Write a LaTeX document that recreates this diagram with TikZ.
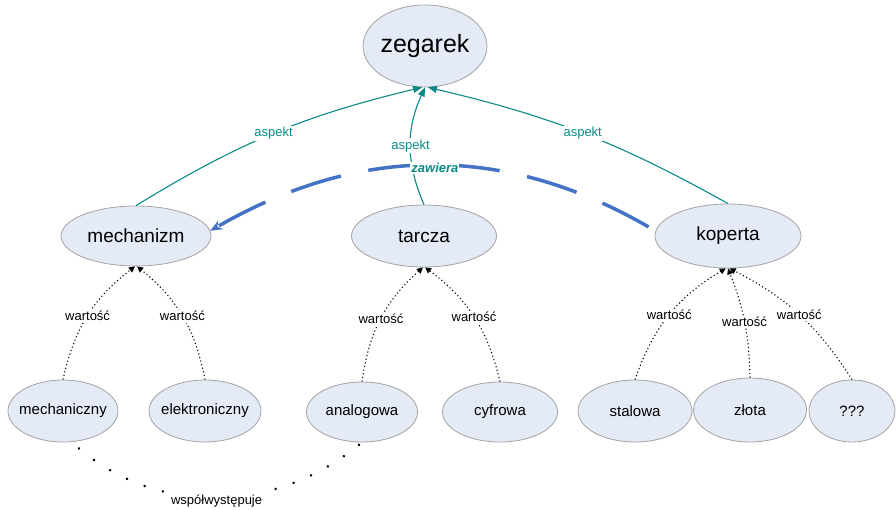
\documentclass[tikz,border=0pt]{standalone}
\usepackage{fontspec}
\setmainfont{Liberation Sans}
\usetikzlibrary{shapes.geometric,arrows.meta}
\definecolor{nodefill}{HTML}{E4EAF6}
\definecolor{nodeline}{HTML}{A3A3A3}
\definecolor{aspectcol}{HTML}{0A8A86}
\definecolor{containcol}{HTML}{4472C4}

\begin{document}
\begin{tikzpicture}[x=1pt,y=-1pt,
  concept/.style={ellipse, draw=nodeline, fill=nodefill, line width=0.8pt, inner xsep=-8pt, inner ysep=0pt},
  bigc/.style={concept, font=\fontsize{25}{28}\selectfont},
  midc/.style={concept, font=\fontsize{19}{22}\selectfont},
  smallc/.style={concept, font=\fontsize{15}{18}\selectfont},
  aspectedge/.style={draw=aspectcol, line width=1.1pt, -{Triangle[length=9pt,width=7pt]}},
  aspectlabel/.style={fill=white, inner sep=1.5pt, text=aspectcol, font=\fontsize{13}{15}\selectfont},
  valueedge/.style={line width=1.1pt, dash pattern=on 1.1pt off 2.6pt, -{Triangle[length=6pt,width=6pt]}},
  valuelabel/.style={fill=white, inner sep=1.5pt, font=\fontsize{13}{15}\selectfont},
  containedge/.style={draw=containcol, line width=3.5pt, dash pattern=on 52pt off 28pt,
    -{Stealth[length=12pt,width=10pt]}},
  containlabel/.style={fill=white, inner sep=1pt, text=aspectcol, font=\fontsize{13}{15}\selectfont\bfseries\itshape},
  coocedge/.style={line width=2.8pt, line cap=round, dash pattern=on 0.01pt off 19pt},
  cooclabel/.style={fill=white, inner xsep=3pt, inner ysep=5pt, font=\fontsize{13}{15}\selectfont}
]
\useasboundingbox (0,0) rectangle (896,510);

% concepts
\node[bigc, minimum width=124pt, minimum height=82pt] (zeg) at (425,46) {zegarek};

\node[midc, minimum width=150pt, minimum height=60pt] (mech) at (136,236) {mechanizm};
\node[midc, minimum width=145pt, minimum height=62pt] (tarc) at (424,236) {tarcza};
\node[midc, minimum width=146pt, minimum height=64pt] (kop)  at (728,236) {koperta};

\node[smallc, minimum width=110pt, minimum height=62pt] (mechc) at (63,411)  {mechaniczny};
\node[smallc, minimum width=112pt, minimum height=62pt] (elek)  at (205,411) {elektroniczny};
\node[smallc, minimum width=111pt, minimum height=60pt] (anal)  at (362,412) {analogowa};
\node[smallc, minimum width=115pt, minimum height=60pt] (cyfr)  at (500,412) {cyfrowa};
\node[smallc, minimum width=114pt, minimum height=62pt] (stal)  at (635,411) {stalowa};
\node[smallc, minimum width=113pt, minimum height=64pt] (zlot)  at (750,410) {złota};
\node[smallc, minimum width=86pt,  minimum height=62pt] (unkn)  at (852,411) {???};

% aspects of the watch
\draw[aspectedge] (mech.north) to[bend left=9] node[aspectlabel] {aspekt} (zeg.-94);
\draw[aspectedge] (tarc.north) to[bend left=24] node[aspectlabel, pos=0.5] {aspekt} (zeg.-90);
\draw[aspectedge] (kop.north) to[bend right=8] node[aspectlabel] {aspekt} (zeg.-86);

% containment
\draw[containedge, shorten <=8pt] (kop.176) to[bend right=30] node[containlabel, xshift=2pt, yshift=-2pt] {zawiera} (mech.4);

% values
\draw[valueedge] (mechc.north) to[bend left=20] node[valuelabel] {wartość} (mech.-92);
\draw[valueedge] (elek.north) to[bend right=20] node[valuelabel] {wartość} (mech.-88);
\draw[valueedge] (anal.north) to[bend left=20] node[valuelabel] {wartość} (tarc.-92);
\draw[valueedge] (cyfr.north) to[bend right=20] node[valuelabel] {wartość} (tarc.-88);
\draw[valueedge] (stal.north) to[bend left=20] node[valuelabel] {wartość} (kop.-94);
\draw[valueedge] (zlot.north) to[bend right=10] node[valuelabel] {wartość} (kop.-90);
\draw[valueedge] (unkn.north) to[bend right=15] node[valuelabel] {wartość} (kop.-87);

% co-occurrence
\draw[coocedge, shorten <=10pt] (mechc.-75) to[bend right=40] node[cooclabel, yshift=-4pt] {współwystępuje} (anal.south);
\end{tikzpicture}
\end{document}
